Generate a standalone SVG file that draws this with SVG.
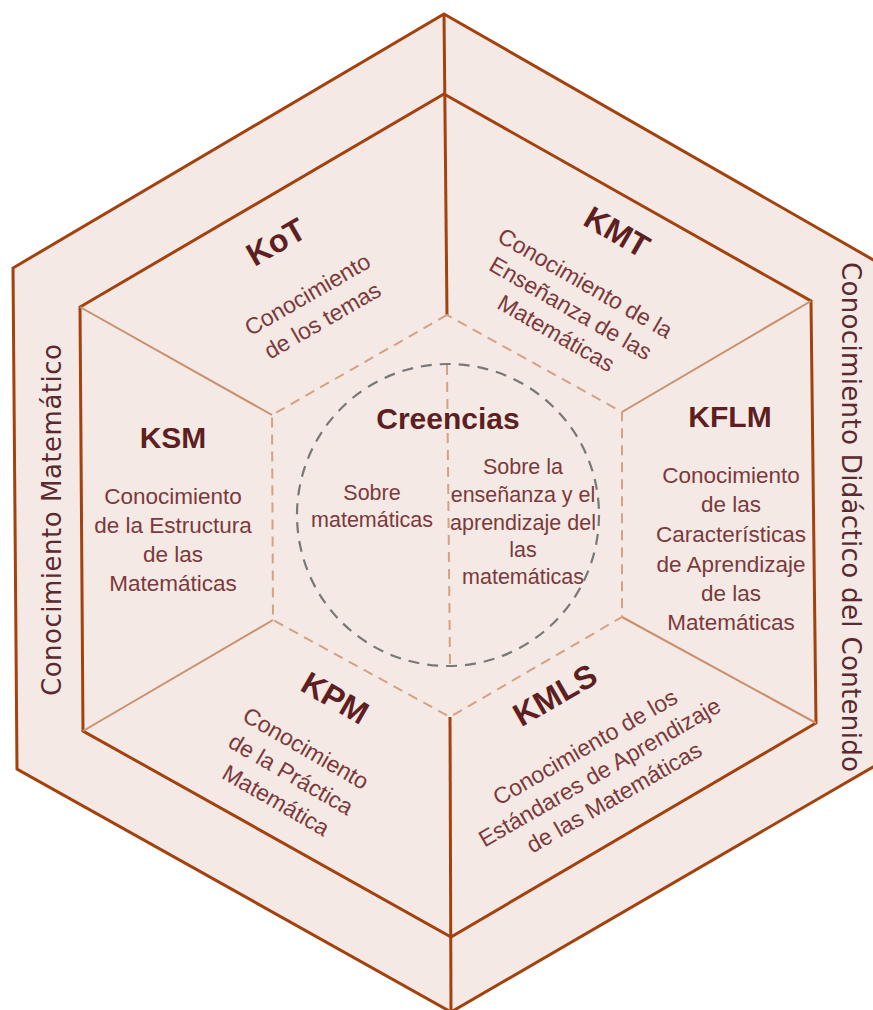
<svg xmlns="http://www.w3.org/2000/svg" width="873" height="1010" viewBox="0 0 873 1010">
<style>
.hex{fill:#f4e9e4;stroke:#a3410f;stroke-width:3;stroke-linejoin:miter}
.thick{stroke:#a3410f;stroke-width:3;fill:none}
.thin{stroke:#c9906f;stroke-width:2;fill:none}
.dash{stroke:#d6a183;stroke-width:2;fill:none;stroke-dasharray:10 7}
.circ{stroke:#787878;stroke-width:2.2;fill:none;stroke-dasharray:11 8}
.title{font-family:"Liberation Sans",Arial,sans-serif;font-weight:bold;fill:#5e1f22;text-anchor:middle}
.body{font-family:"Liberation Sans",Arial,sans-serif;fill:#7b3a3c;text-anchor:middle;font-size:22.5px}
.rb{font-size:23px}
.outer{font-family:"DejaVu Sans",sans-serif;fill:#5a2a30;font-size:26px;text-anchor:middle;dominant-baseline:central}
</style>
<rect width="873" height="1010" fill="#ffffff"/>
<g id="outer-hexagon">
<polygon class="hex" points="444,14 877,262 878,764 451,1012 17,769 13,268"/>
</g>
<g id="inner-hexagon">
<polygon class="hex" points="444,94 811,301 816,723 451,937 83,731 80,307"/>
</g>
<g id="connectors">
<line class="thick" x1="444" y1="14" x2="447" y2="315"/>
<line class="thick" x1="450" y1="717" x2="451" y2="1012"/>
<line class="thin" x1="80" y1="307" x2="272" y2="415"/>
<line class="thin" x1="83" y1="731" x2="273" y2="620"/>
<line class="thin" x1="811" y1="301" x2="622" y2="412"/>
<line class="thin" x1="816" y1="723" x2="622" y2="617"/>
<polygon class="dash" points="447,315 272,415 273,620 450,717 622,617 622,412"/>
<line class="dash" x1="447" y1="365" x2="450" y2="666"/>
</g>
<g id="creencias">
<circle class="circ" cx="448" cy="515" r="151"/>
<text class="title" x="448" y="429" font-size="30">Creencias</text>
<text class="body" style="font-size:21.5px"><tspan x="372" y="500">Sobre</tspan><tspan x="372" y="527">matemáticas</tspan></text>
<text class="body" style="font-size:21.5px"><tspan x="523" y="474">Sobre la</tspan><tspan x="523" y="502">enseñanza y el</tspan><tspan x="523" y="530">aprendizaje del</tspan><tspan x="523" y="557">las</tspan><tspan x="523" y="584">matemáticas</tspan></text>
</g>
<g id="label-cm">
<text class="outer" transform="translate(52,520) rotate(-90)" textLength="352" lengthAdjust="spacing">Conocimiento Matemático</text>
</g>
<g id="label-cdc">
<text class="outer" transform="translate(851,517) rotate(90)" textLength="510" lengthAdjust="spacing">Conocimiento Didáctico del Contenido</text>
</g>
<g id="kot" transform="translate(276,242) rotate(-30)">
<text class="title" x="0" y="11" font-size="32">KoT</text>
<text class="body rb"><tspan x="1" y="69">Conocimiento</tspan><tspan x="1" y="99">de los temas</tspan></text>
</g>
<g id="kmt" transform="translate(617,232) rotate(30)">
<text class="title" x="0" y="11" font-size="32">KMT</text>
<text class="body rb"><tspan x="-2" y="68">Conocimiento de la</tspan><tspan x="-2" y="97">Enseñanza de las</tspan><tspan x="-2" y="126">Matemáticas</tspan></text>
</g>
<g id="ksm">
<text class="title" x="173" y="448" font-size="30">KSM</text>
<text class="body"><tspan x="173" y="504">Conocimiento</tspan><tspan x="173" y="533">de la Estructura</tspan><tspan x="173" y="562">de las</tspan><tspan x="173" y="591">Matemáticas</tspan></text>
</g>
<g id="kflm">
<text class="title" x="730" y="427" font-size="30">KFLM</text>
<text class="body"><tspan x="731" y="483">Conocimiento</tspan><tspan x="731" y="512">de las</tspan><tspan x="731" y="542">Características</tspan><tspan x="731" y="572">de Aprendizaje</tspan><tspan x="731" y="601">de las</tspan><tspan x="731" y="630">Matemáticas</tspan></text>
</g>
<g id="kpm" transform="translate(335,698) rotate(30)">
<text class="title" x="0" y="11" font-size="32">KPM</text>
<text class="body rb"><tspan x="0" y="66">Conocimiento</tspan><tspan x="0" y="96">de la Práctica</tspan><tspan x="0" y="126">Matemática</tspan></text>
</g>
<g id="kmls" transform="translate(555,695) rotate(-30)">
<text class="title" x="0" y="11" font-size="32">KMLS</text>
<text class="body rb"><tspan x="0" y="68">Conocimiento de los</tspan><tspan x="0" y="97">Estándares de Aprendizaje</tspan><tspan x="0" y="126">de las Matemáticas</tspan></text>
</g>
</svg>
